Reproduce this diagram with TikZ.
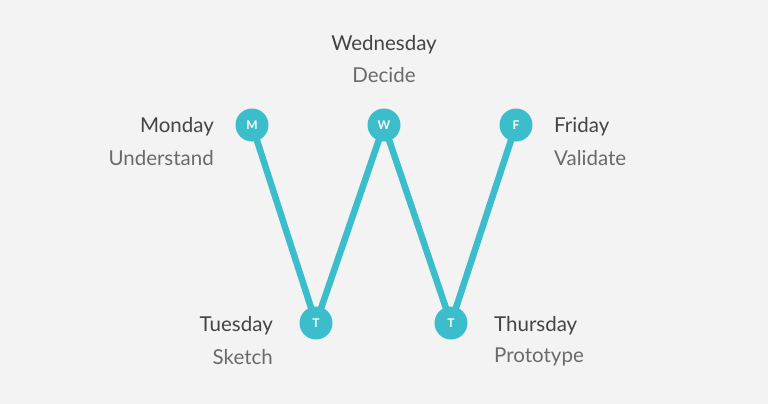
\documentclass[tikz,border=0pt]{standalone}
\usepackage{fontspec}
\setmainfont{Lato}
\definecolor{teal1}{HTML}{3BBDCC}
\definecolor{bgc}{HTML}{F3F3F3}
\definecolor{dayc}{HTML}{444444}
\definecolor{subc}{HTML}{6A6A6A}
\begin{document}
\begin{tikzpicture}[x=1pt,y=-1pt,
  dot/.style={circle,fill=teal1,minimum size=33pt,inner sep=0pt,text=white,font=\fontsize{12}{12}\selectfont\bfseries},
  day/.style={text=dayc,font=\fontsize{20.5}{20.5}\selectfont,inner sep=0pt},
  sub/.style={text=subc,font=\fontsize{20.5}{20.5}\selectfont,inner sep=0pt},
  link/.style={draw=teal1,line width=6.5pt}]
\fill[bgc] (0,0) rectangle (768,404);
\useasboundingbox (0,0) rectangle (768,404);
\coordinate (m) at (252,125);
\coordinate (t1) at (316,323);
\coordinate (w) at (384,125);
\coordinate (t2) at (451,323);
\coordinate (f) at (516,125);
\draw[link] (m) -- (t1) -- (w) -- (t2) -- (f);
\node[dot] (M) at (m) {M};
\node[dot] (T1) at (t1) {T};
\node[dot] (W) at (w) {W};
\node[dot] (T2) at (t2) {T};
\node[dot] (F) at (f) {F};
\node[day,anchor=east] (mon) at (214,127) {Monday};
\node[sub,anchor=east] (und) at (214,158) {Understand};
\node[day] (wed) at (384,45) {Wednesday};
\node[sub] (dec) at (384,75) {Decide};
\node[day,anchor=west] (fri) at (554,127) {Friday};
\node[sub,anchor=west] (val) at (554,158) {Validate};
\node[day,anchor=east] (tue) at (273,326) {Tuesday};
\node[sub,anchor=east] (ske) at (273,357) {Sketch};
\node[day,anchor=west] (thu) at (494,326) {Thursday};
\node[sub,anchor=west] (pro) at (494,357) {Prototype};
\end{tikzpicture}
\end{document}
